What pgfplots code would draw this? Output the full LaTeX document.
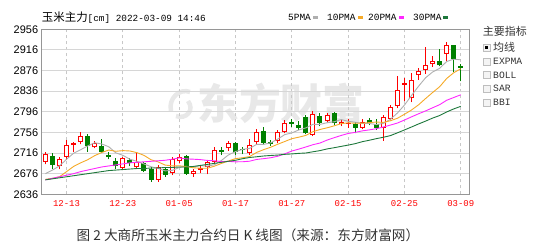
\documentclass[border=0pt]{standalone}
\usepackage{pgfplots}
\pgfplotsset{compat=1.18}
\usepackage{pgfplotstable}
\usepackage{fontspec}
\setmainfont{Liberation Sans}
\newfontfamily\cjk{Noto Sans CJK SC}
\newfontfamily\mono{Liberation Mono}
\definecolor{cRed}{RGB}{255,0,0}
\definecolor{cGrn}{RGB}{0,128,0}
\definecolor{maA}{RGB}{175,175,175}
\definecolor{maB}{RGB}{245,170,40}
\definecolor{maC}{RGB}{255,40,255}
\definecolor{maD}{RGB}{30,120,60}
\definecolor{frame}{RGB}{150,150,150}
\definecolor{gridc}{RGB}{214,214,214}
\definecolor{gridv}{RGB}{200,200,200}
\definecolor{txt}{RGB}{51,51,51}
\definecolor{wm}{RGB}{232,232,232}
\definecolor{cbB}{RGB}{190,190,190}
\definecolor{cbF}{RGB}{244,244,244}

\pgfplotsset{candle/.style={only marks, mark=*, mark size=0pt, mark options={draw=none, fill=none}, forget plot,
  error bars/.cd, y dir=plus, y explicit, error mark=none}}

\pgfplotstableread{
i o h l c
0 2699 2719 2694 2715
2 2690 2708 2685 2704
3 2709 2741 2703 2731
4 2732 2738 2718 2735
5 2738 2756 2733 2749
7 2727 2740 2725 2735
11 2687 2709 2685 2706
13 2688 2716 2686 2699
16 2664 2692 2660 2689
18 2677 2709 2673 2704
19 2700 2715 2696 2709
21 2676 2685 2670 2682
22 2684 2693 2677 2687
23 2689 2702 2675 2699
24 2698 2727 2695 2722
26 2725 2740 2720 2736
29 2716 2744 2713 2731
30 2737 2762 2733 2757
33 2739 2760 2735 2757
34 2757 2781 2754 2775
38 2751 2797 2749 2792
40 2779 2794 2774 2789
42 2772 2781 2768 2776
43 2773 2782 2765 2775
45 2765 2782 2762 2777
48 2764 2790 2740 2786
49 2782 2809 2780 2805
50 2807 2865 2803 2838
51 2848 2861 2816 2851
52 2822 2871 2815 2858
53 2867 2880 2858 2876
54 2877 2922 2870 2887
55 2888 2904 2883 2894
57 2909 2932 2895 2925
}\upT

\pgfplotstableread{
i o h l c
1 2710 2717 2686 2693
6 2750 2752 2719 2730
8 2730 2744 2716 2719
9 2712 2718 2704 2708
10 2701 2706 2686 2690
12 2702 2706 2690 2697
14 2697 2699 2679 2682
15 2686 2689 2660 2664
17 2685 2689 2670 2673
20 2711 2713 2674 2676
25 2722 2728 2712 2718
27 2736 2738 2712 2719
28 2723 2728 2714 2721
31 2758 2767 2732 2736
32 2737 2742 2730 2734
35 2776 2783 2767 2773
36 2770 2779 2761 2765
37 2786 2789 2752 2754
39 2787 2793 2768 2774
41 2793 2795 2770 2774
44 2772 2777 2754 2765
46 2781 2784 2770 2774
47 2773 2783 2761 2765
56 2894 2918 2884 2886
58 2925 2926 2873 2898
59 2885 2888 2855 2881
}\dnT

\pgfplotstableread{
i ma5 ma10 ma20 ma30
0 2676 2665 2664 2664
1 2683 2667 2667 2666
2 2691 2670 2670 2668
3 2704 2680 2673 2670
4 2715.6 2690 2676 2672
5 2722.4 2697 2680 2674
6 2729.8 2703 2683 2676
7 2736 2711 2686 2678
8 2733.6 2717 2689 2680
9 2728.2 2721.9 2691 2682
10 2716.4 2719.4 2693 2683
11 2711.6 2720.7 2695 2684
12 2704 2720 2697 2685
13 2700 2716.8 2698 2686
14 2694.8 2711.5 2699 2686
15 2689.6 2703 2700 2687
16 2686.2 2698.9 2701 2687
17 2681.4 2692.7 2702 2688
18 2682.4 2691.2 2704 2688
19 2687.8 2691.3 2706.6 2689
20 2690.2 2689.9 2704.7 2689
21 2688.8 2687.5 2704.1 2690
22 2691.6 2686.5 2703.3 2692
23 2690.6 2686.5 2701.7 2694
24 2693.2 2690.5 2701 2696
25 2701.6 2695.9 2699.5 2698
26 2712.4 2700.6 2699.8 2700
27 2718.8 2705.2 2699 2702
28 2723.2 2706.9 2699.1 2705
29 2725 2709.1 2700.2 2707.4
30 2732.8 2717.2 2703.6 2708.8
31 2732.8 2722.6 2705.1 2710.3
32 2735.8 2727.3 2706.9 2711.3
33 2743 2733.1 2709.8 2712.1
34 2751.8 2738.4 2714.5 2713.5
35 2755 2743.9 2719.9 2714.3
36 2760.8 2746.8 2723.7 2715.4
37 2764.8 2750.3 2727.8 2716.1
38 2771.8 2757.4 2732.2 2718.5
39 2771.6 2761.7 2735.4 2720.7
40 2774.8 2764.9 2741.1 2724
41 2776.6 2768.7 2745.7 2726.3
42 2781 2772.9 2750.1 2728.9
43 2777.6 2774.7 2753.9 2731.4
44 2775.8 2773.7 2756.1 2734.2
45 2773.4 2774.1 2759 2738
46 2773.4 2775 2760.9 2740.8
47 2771.2 2776.1 2763.2 2743.9
48 2773.4 2775.5 2766.5 2746.6
49 2781.4 2778.6 2770.2 2749.8
50 2793.6 2783.5 2774.2 2755.2
51 2809 2791.2 2780 2760.8
52 2827.6 2799.4 2786.2 2766.5
53 2845.6 2809.5 2792.1 2772.4
54 2862 2821.7 2797.7 2777.9
55 2873.2 2833.4 2803.8 2783.8
56 2880.2 2844.6 2809.8 2788.8
57 2893.6 2860.6 2818.4 2795.7
58 2898 2871.8 2823.7 2801.6
59 2896.8 2879.4 2829 2806.6
}\maT

\begin{document}
\begin{tikzpicture}
\useasboundingbox (0,0) rectangle (533bp,248bp);
% watermark
\draw[wm, line width=4.5bp] (171bp,137bp) .. controls (168bp,150bp) and (180bp,160bp) .. (190bp,156bp);
\draw[wm, line width=4.5bp] (176bp,132bp) .. controls (186bp,128bp) and (195bp,138bp) .. (188bp,147bp);
\node[anchor=west, inner sep=0pt, text=wm, font=\cjk\bfseries\fontsize{42}{42}\selectfont] at (197bp,145bp) {东方财富};

\begin{axis}[
  at={(41.7bp,53.7bp)}, anchor=south west,
  scale only axis, width=427.3bp, height=165bp,
  xmin=-0.53, xmax=60.17, ymin=2636, ymax=2956,
  axis line style={draw=frame, line width=1bp},
  xtick={3,11,19,27,35,43,51,59},
  xticklabels={12-13,12-23,01-05,01-17,01-27,02-15,02-25,03-09},
  ytick={2636,2676,2716,2756,2796,2836,2876,2916,2956},
  major tick length=0pt,
  xmajorgrids, ymajorgrids,
  x grid style={draw=gridv, line width=1bp, dash pattern=on 3bp off 3bp},
  y grid style={draw=gridc, line width=1bp},
  xticklabel style={font=\mono\fontsize{9}{10}\selectfont, text=cRed, anchor=north, inner sep=0pt, yshift=-6.5bp},
  yticklabel style={font=\fontsize{11}{12}\selectfont, text=black, anchor=east, inner sep=0pt, xshift=-3.4bp},
  /pgf/number format/.cd, 1000 sep={}, assume math mode=true,
]
% wicks
\addplot[candle, error bar style={draw=cRed, line width=1bp, solid}]
  table[x=i, y=l, y error expr=\thisrow{h}-\thisrow{l}] \upT;
\addplot[candle, error bar style={draw=cGrn, line width=1bp, solid}]
  table[x=i, y=l, y error expr=\thisrow{h}-\thisrow{l}] \dnT;
% red bodies
\addplot[candle, error bar style={draw=cRed, line width=5bp, solid}]
  table[x=i, y=o, y error expr={max(\thisrow{c}-\thisrow{o},1.9)}] \upT;
\addplot[candle, error bar style={draw=white, line width=3bp, solid}]
  table[x=i, y expr=\thisrow{o}+1.94, y error expr={max(\thisrow{c}-\thisrow{o}-3.88,0)}] \upT;
% green bodies
\addplot[candle, error bar style={draw=cGrn, line width=5bp, solid}]
  table[x=i, y=c, y error expr={max(\thisrow{o}-\thisrow{c},1.9)}] \dnT;
% moving averages
\addplot[maA, line width=0.9bp, no marks] table[x=i, y=ma5] \maT;
\addplot[maB, line width=0.9bp, no marks] table[x=i, y=ma10] \maT;
\addplot[maC, line width=0.9bp, no marks] table[x=i, y=ma20] \maT;
\addplot[maD, line width=0.9bp, no marks] table[x=i, y=ma30] \maT;
\end{axis}

% header
\node[anchor=west, inner sep=0pt] at (41.7bp,230.5bp) {{\cjk\fontsize{11.5}{12}\selectfont 玉米主力}{\mono\fontsize{9.4}{10}\selectfont [cm] 2022-03-09 14:46}};
% MA legend
\node[anchor=west, inner sep=0pt, font=\mono\fontsize{9.5}{10}\selectfont] at (288bp,230.5bp) {5PMA};
\fill[maA] (313bp,229.3bp) rectangle (318bp,231.7bp);
\node[anchor=west, inner sep=0pt, font=\mono\fontsize{9.5}{10}\selectfont] at (327bp,230.5bp) {10PMA};
\fill[maB] (358bp,229.3bp) rectangle (363bp,231.7bp);
\node[anchor=west, inner sep=0pt, font=\mono\fontsize{9.5}{10}\selectfont] at (368bp,230.5bp) {20PMA};
\fill[maC] (399bp,229.3bp) rectangle (404bp,231.7bp);
\node[anchor=west, inner sep=0pt, font=\mono\fontsize{9.5}{10}\selectfont] at (413bp,230.5bp) {30PMA};
\fill[maD] (443bp,229.3bp) rectangle (448bp,231.7bp);

% right panel
\node[anchor=west, inner sep=0pt, text=txt, font=\cjk\fontsize{11}{12}\selectfont] at (482.7bp,217bp) {主要指标};
\foreach \yc in {200.2,186.5,173,159.5,145.5} {
  \draw[draw=cbB, fill=cbF, line width=0.8bp] (483bp,\yc bp-3.5bp) rectangle (490bp,\yc bp+3.5bp);
}
\fill[black] (485bp,198.7bp) rectangle (488bp,201.7bp);
\node[anchor=west, inner sep=0pt, text=txt, font=\cjk\fontsize{11}{12}\selectfont] at (493bp,200.2bp) {均线};
\node[anchor=west, inner sep=0pt, text=txt, font=\mono\fontsize{9.7}{10}\selectfont] at (493bp,186.5bp) {EXPMA};
\node[anchor=west, inner sep=0pt, text=txt, font=\mono\fontsize{9.7}{10}\selectfont] at (493bp,173bp) {BOLL};
\node[anchor=west, inner sep=0pt, text=txt, font=\mono\fontsize{9.7}{10}\selectfont] at (493bp,159.5bp) {SAR};
\node[anchor=west, inner sep=0pt, text=txt, font=\mono\fontsize{9.7}{10}\selectfont] at (493bp,145.5bp) {BBI};

% caption
\node[inner sep=0pt, text=txt, font=\cjk\fontsize{13.7}{14}\selectfont] at (248bp,13bp) {图 2 大商所玉米主力合约日 K 线图（来源：东方财富网）};
\end{tikzpicture}
\end{document}
